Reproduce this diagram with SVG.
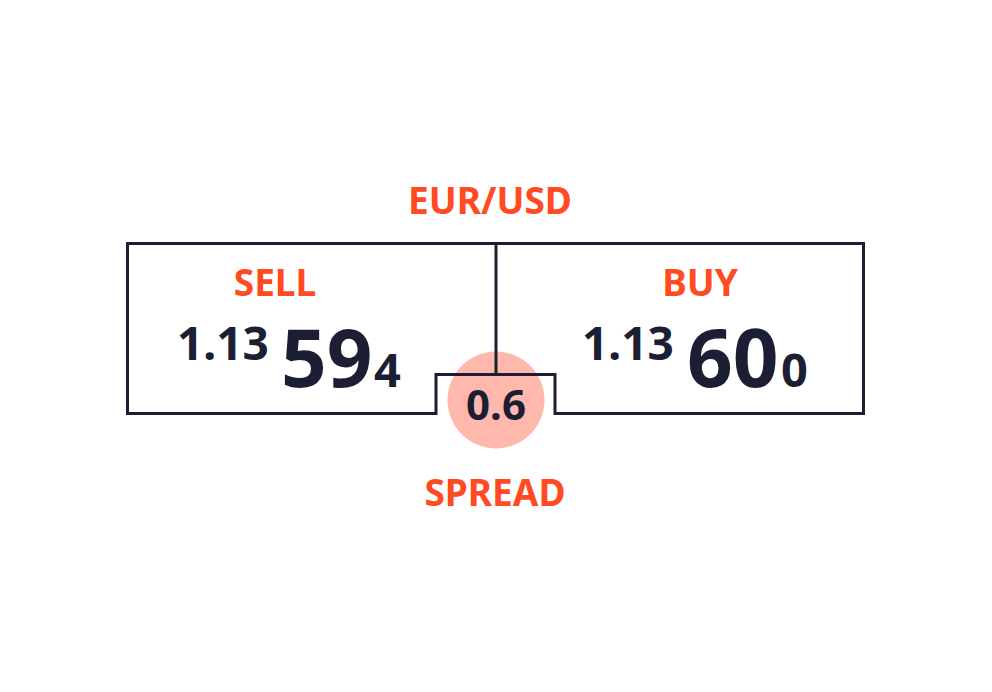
<svg xmlns="http://www.w3.org/2000/svg" width="992" height="692" viewBox="0 0 992 692">
  <style>
    .lbl { font-family: "Noto Sans", "Open Sans", "Liberation Sans", sans-serif; font-weight: 700; fill: #ff4a22; font-size: 37px; text-anchor: middle; }
    .num { font-family: "Noto Sans", "Open Sans", "Liberation Sans", sans-serif; font-weight: 700; fill: #1c1f33; }
    .frame { fill: none; stroke: #1c1f33; stroke-width: 3; }
  </style>
  <rect width="992" height="692" fill="#ffffff"/>
  <g id="spread-circle">
    <circle cx="496" cy="400" r="48.5" fill="#ffb8ab"/>
  </g>
  <g id="connectors">
    <path class="frame" d="M127.5 243.5 H863.5 V413.5 H555 V374.5 H436 V413.5 H127.5 Z"/>
    <line class="frame" x1="496" y1="243.5" x2="496" y2="374.5"/>
  </g>
  <g id="pair">
    <text class="lbl" x="490" y="214">EUR/USD</text>
  </g>
  <g id="sell">
    <text class="lbl" x="275" y="296">SELL</text>
    <text class="num" x="177" y="360" font-size="46">1.13</text>
    <text class="num" x="281" y="387" font-size="80">59</text>
    <text class="num" x="374" y="387" font-size="47">4</text>
  </g>
  <g id="buy">
    <text class="lbl" x="700" y="296">BUY</text>
    <text class="num" x="582" y="360" font-size="46">1.13</text>
    <text class="num" x="687" y="387" font-size="80">60</text>
    <text class="num" x="781" y="387" font-size="47">0</text>
  </g>
  <g id="spread">
    <text class="num" x="496" y="420" font-size="42" text-anchor="middle">0.6</text>
    <text class="lbl" x="495" y="506">SPREAD</text>
  </g>
</svg>
